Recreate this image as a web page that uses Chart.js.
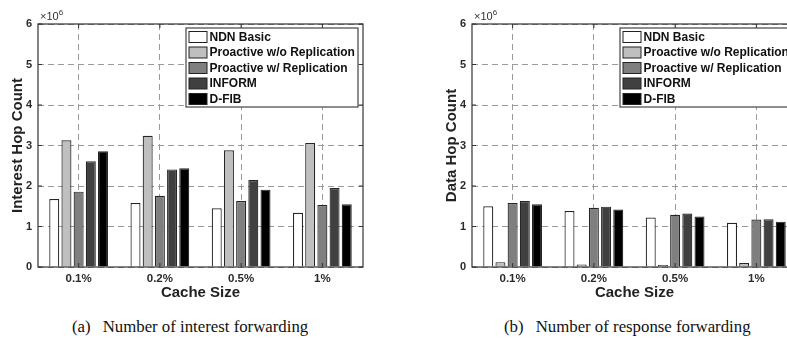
<!DOCTYPE html>
<html><head><meta charset="utf-8">
<script src="https://cdn.jsdelivr.net/npm/chart.js@4.4.1/dist/chart.umd.min.js"></script>
<style>
html,body{margin:0;padding:0;background:#fff;overflow:hidden;width:787px;height:339px;}
#wrap{position:relative;width:787px;height:339px;overflow:hidden;background:#fff;}
.cv{position:absolute;top:0;}
.cap{position:absolute;top:316.5px;font-family:"Liberation Serif","Times New Roman",serif;font-size:16.8px;color:#111;white-space:nowrap;line-height:20px;}
</style></head><body>
<div id="wrap">
  <canvas id="c1" class="cv" style="left:0px" width="400" height="305"></canvas>
  <canvas id="c2" class="cv" style="left:400px" width="410" height="305"></canvas>
  <div class="cap" style="left:72px">(a)</div>
  <div class="cap" style="left:102.7px">Number of interest forwarding</div>
  <div class="cap" style="left:504px">(b)</div>
  <div class="cap" style="left:535.7px">Number of response forwarding</div>
</div>
<script>
// ---- data (values in units of 10^6) ----
const categories = ['0.1%', '0.2%', '0.5%', '1%'];
const seriesNames = ['NDN Basic', 'Proactive w/o Replication', 'Proactive w/ Replication', 'INFORM', 'D-FIB'];
const seriesColors = ['#ffffff', '#bfbfbf', '#7f7f7f', '#404040', '#000000'];
const yTickLabels = ['0', '1', '2', '3', '4', '5', '6'];

const interestNDN      = [1.68, 1.58, 1.45, 1.34];
const interestProNoRep = [3.13, 3.24, 2.88, 3.06];
const interestProRep   = [1.86, 1.76, 1.63, 1.53];
const interestINFORM   = [2.61, 2.41, 2.15, 1.95];
const interestDFIB     = [2.86, 2.44, 1.91, 1.55];

const dataNDN      = [1.50, 1.38, 1.22, 1.09];
const dataProNoRep = [0.12, 0.06, 0.05, 0.10];
const dataProRep   = [1.58, 1.46, 1.29, 1.17];
const dataINFORM   = [1.63, 1.49, 1.32, 1.18];
const dataDFIB     = [1.55, 1.42, 1.25, 1.12];

const FONT = '"Liberation Sans", Arial, Helvetica, sans-serif';

const framePlugin = {
  id: 'frame',
  afterDraw(chart) {
    const {ctx, chartArea: a, scales: {x, y}} = chart;
    ctx.save();
    ctx.setLineDash([]);
    ctx.strokeStyle = '#333';
    ctx.lineWidth = 1.2;
    ctx.strokeRect(a.left, a.top, a.right - a.left, a.bottom - a.top);
    ctx.lineWidth = 1;
    ctx.beginPath();
    x.ticks.forEach((t, i) => {
      const px = x.getPixelForTick(i);
      ctx.moveTo(px, a.bottom); ctx.lineTo(px, a.bottom - 4);
      ctx.moveTo(px, a.top); ctx.lineTo(px, a.top + 4);
    });
    y.ticks.forEach((t, i) => {
      const py = y.getPixelForTick(i);
      ctx.moveTo(a.left, py); ctx.lineTo(a.left + 4, py);
      ctx.moveTo(a.right, py); ctx.lineTo(a.right - 4, py);
    });
    ctx.stroke();
    // exponent label
    ctx.fillStyle = '#333';
    ctx.textBaseline = 'middle';
    ctx.textAlign = 'left';
    ctx.font = '11px ' + FONT;
    ctx.fillText('\u00d710', a.left + 2, a.top - 7);
    const w = ctx.measureText('\u00d710').width;
    ctx.font = '8px ' + FONT;
    ctx.fillText('6', a.left + 2 + w, a.top - 11);
    // legend box
    const bw = 172, bh = 79;
    const bx = a.right - 5 - bw, by = a.top + 4;
    ctx.fillStyle = '#fff';
    ctx.fillRect(bx, by, bw, bh);
    ctx.strokeStyle = '#444';
    ctx.lineWidth = 1.2;
    ctx.strokeRect(bx, by, bw, bh);
    ctx.font = 'bold 12px ' + FONT;
    chart.data.datasets.forEach((ds, i) => {
      const cy = by + 9 + i * 15.5;
      ctx.fillStyle = ds.backgroundColor;
      ctx.fillRect(bx + 3, cy - 5.5, 18, 11);
      ctx.strokeStyle = '#222';
      ctx.lineWidth = 1;
      ctx.strokeRect(bx + 3, cy - 5.5, 18, 11);
      ctx.fillStyle = '#111';
      ctx.fillText(ds.label, bx + 23.5, cy + 0.5);
    });
    ctx.restore();
  }
};

function makeChart(id, series, yTitle, padLeft, padRight) {
  return new Chart(document.getElementById(id), {
    type: 'bar',
    data: {
      labels: categories,
      datasets: series.map((vals, i) => ({
        label: seriesNames[i],
        data: vals,
        backgroundColor: seriesColors[i],
        borderColor: '#262626',
        borderWidth: 1.2,
        categoryPercentage: 0.75,
        barPercentage: 0.82
      }))
    },
    options: {
      responsive: false,
      animation: false,
      layout: {padding: {left: padLeft, right: padRight, top: 24, bottom: 0}},
      plugins: {legend: {display: false}, tooltip: {enabled: false}},
      scales: {
        x: {
          offset: true,
          grid: {offset: false, drawTicks: false, color: '#9a9a9a', lineWidth: 1},
          border: {display: false, dash: [6, 4]},
          ticks: {font: {family: FONT, size: 11.5, weight: 'bold'}, color: '#2a2a2a', padding: 5, maxRotation: 0, autoSkip: false},
          title: {display: true, text: 'Cache Size', font: {family: FONT, size: 15, weight: 'bold', lineHeight: 1.2}, color: '#222', padding: {top: 0, bottom: 3}},
          afterFit(s) { s.height = 38; }
        },
        y: {
          min: 0, max: 6,
          grid: {drawTicks: false, color: '#9a9a9a', lineWidth: 1},
          border: {display: false, dash: [6, 4]},
          ticks: {stepSize: 1, font: {family: FONT, size: 11, weight: 'bold'}, color: '#2a2a2a', padding: 6,
                  callback: (v, i) => yTickLabels[i]},
          title: {display: true, text: yTitle, font: {family: FONT, size: 15, weight: 'bold', lineHeight: 1.2}, color: '#222', padding: {top: 9, bottom: 0}},
          afterFit(s) { s.width = 38; }
        }
      }
    },
    plugins: [framePlugin]
  });
}

makeChart('c1', [interestNDN, interestProNoRep, interestProRep, interestINFORM, interestDFIB], 'Interest Hop Count', 0, 37);
makeChart('c2', [dataNDN, dataProNoRep, dataProRep, dataINFORM, dataDFIB], 'Data Hop Count', 34, 13);
</script>
</body></html>
